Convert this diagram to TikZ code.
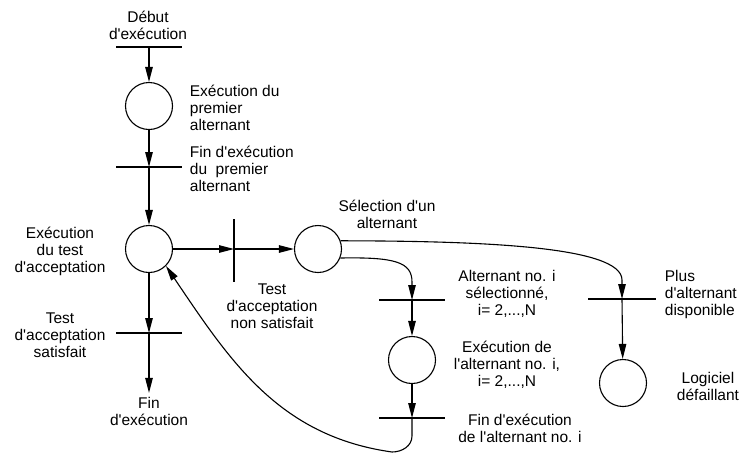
\documentclass[tikz,border=0pt]{standalone}
\usepackage{fontspec}
\setmainfont{Liberation Sans}[Ligatures=TeXOff]
\usetikzlibrary{arrows.meta}

\begin{document}
\begin{tikzpicture}[x=1pt, y=-1pt, line width=1.1pt,
    every node/.style={font=\fontsize{15.5}{17}\selectfont},
    place/.style={draw, circle, minimum size=47pt, inner sep=0pt},
    txt/.style={align=center},
    arr/.style={-{Triangle[length=15pt, width=7.5pt]}}]
  \useasboundingbox (0,0) rectangle (744,456);

  % Draw the places
  \node[place] (p1) at (149,106) {};
  \node[place] (p2) at (149,249) {};
  \node[place] (p3) at (318,249) {};
  \node[place] (p4) at (412,360) {};
  \node[place] (p5) at (623,383) {};

  % Transitions
  \coordinate (t0) at (149,47);
  \coordinate (t1) at (149,167);
  \coordinate (t2) at (234,249);
  \coordinate (t3) at (149,333);
  \coordinate (t4) at (412,300);
  \coordinate (t5) at (412,418);
  \coordinate (t6) at (622,299);

  % Draw the bars
  \draw (t0) +(-33,0) -- +(33,0);
  \draw (t1) +(-33,0) -- +(33,0);
  \draw (t2) +(0,-30) -- +(0,33);
  \draw (t3) +(-33,0) -- +(33,0);
  \draw (t4) +(-33,0) -- +(33,0);
  \draw (t5) +(-33,0) -- +(33,0);
  \draw (t6) +(-34,0) -- +(34,0);

  % Draw the texts
  \node[txt] (debut) at (148,25) {Début\\d'exécution};
  \node[align=left, anchor=west] (lp1) at (186,108) {Exécution du\\premier\\alternant};
  \node[align=left, anchor=west] (lt1) at (186,169) {Fin d'exécution\\du \ premier\\alternant};
  \node[txt] (lp2) at (60,251) {Exécution\\du test\\d'acceptation};
  \node[txt] (lt2) at (272,306) {Test\\d'acceptation\\non satisfait};
  \node[txt] (lp3) at (387,214) {Sélection d'un\\alternant};
  \node[txt] (lt3) at (60,335) {Test\\d'acceptation\\satisfait};
  \node[txt] (fin) at (149,411) {Fin\\d'exécution};
  \node[txt] (lt4) at (507,294) {Alternant no. i\\sélectionné,\\i= 2,...,N};
  \node[txt] (lp4) at (507,365) {Exécution de\\l'alternant no. i,\\i= 2,...,N};
  \node[txt] (lt5) at (520,428) {Fin d'exécution\\de l'alternant no. i};
  \node[align=left, anchor=west] (lt6) at (661,294) {Plus\\d'alternant\\disponible};
  \node[txt] (lp5) at (708,386) {Logiciel\\défaillant};

  % Draw the arcs of the main line
  \draw[arr] (t0) -- (p1);
  \draw[arr] (p1) -- (t1);
  \draw[arr] (t1) -- (p2);
  \draw[arr] (p2) -- (t2);
  \draw[arr] (t2) -- (p3);
  \draw[arr] (p2) -- (t3);
  \draw[arr] (t3) -- (fin);

  % Draw the arcs to the alternants
  \draw[arr] (p3.-22) .. controls (395,257) and (412,262) .. (412,282) -- (t4);
  \draw[arr] (t4) -- (p4);
  \draw[arr] (p4) -- (t5);
  \draw[arr] (p3.20) .. controls (480,241) and (622,246) .. (622,280) -- (t6);
  \draw[arr] (t6) -- (p5);

  % Draw the return arc
  \draw[arr] (t5) -- (412,436) to[out=-90, in=0] (392,452)
    to[out=172, in=-56] (p2.-45);
\end{tikzpicture}
\end{document}
